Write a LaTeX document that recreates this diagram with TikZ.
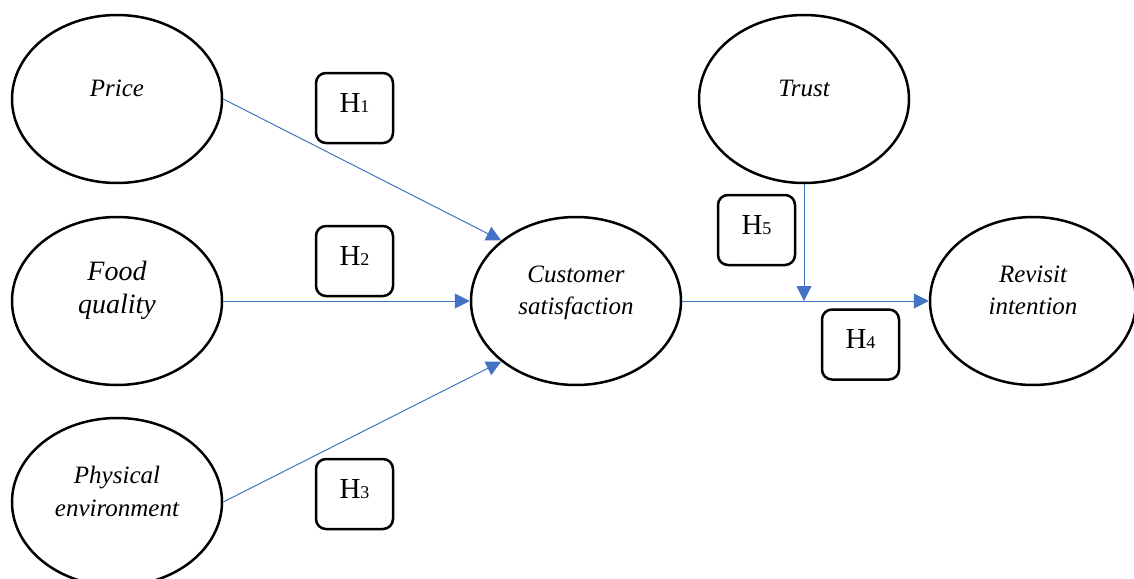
\documentclass[tikz,border=0pt]{standalone}
\usepackage{fontspec}
\setmainfont{Liberation Serif}
\usetikzlibrary{shapes.geometric,arrows.meta}
\definecolor{arrowblue}{HTML}{4472C4}
\newcommand{\hlab}[1]{H{\fontsize{18}{18}\selectfont #1}}
\tikzset{
  construct/.style={ellipse,draw=black,line width=2.5pt,inner sep=0pt,minimum width=210pt,minimum height=168pt},
  ctext/.style={anchor=base,align=center,inner sep=0pt,font=\fontsize{25}{32}\selectfont\itshape},
  bigtext/.style={ctext,font=\fontsize{28}{32}\selectfont\itshape},
  hbox/.style={draw=black,line width=2.5pt,rounded corners=10pt,minimum width=77pt,minimum height=70pt,inner sep=0pt,text depth=10pt,font=\fontsize{29}{29}\selectfont},
  link/.style={draw=arrowblue,line width=1pt,-{Triangle[length=15pt,width=15pt]}}
}
\begin{document}
\begin{tikzpicture}[x=1pt,y=-1pt]
\useasboundingbox (0,0) rectangle (1134,578);
% constructs
\node[construct] (Price) at (117,99) {};
\node[construct] (Food) at (117,301) {};
\node[construct] (Phys) at (117,502) {};
\node[construct] (CS) at (576,301) {};
\node[construct] (Trust) at (804,99) {};
\node[construct,minimum width=206pt] (RI) at (1033,301) {};
% texts
\node[ctext] (tPrice) at (117,96) {Price};
\node[bigtext] (tFood) at (117,280) {Food};
\node[bigtext] (tFood2) at (117,313) {quality};
\node[ctext] (tPhys) at (117,483) {Physical};
\node[ctext] (tPhys2) at (117,516) {environment};
\node[ctext] (tCS) at (576,282) {Customer};
\node[ctext] (tCS2) at (576,314) {satisfaction};
\node[ctext] (tTrust) at (804,96) {Trust};
\node[ctext] (tRI) at (1033,282) {Revisit};
\node[ctext] (tRI2) at (1033,314) {intention};
% hypothesis boxes
\node[hbox] (H1) at (354.5,108) {\hlab{1}};
\node[hbox] (H2) at (354.5,261) {\hlab{2}};
\node[hbox] (H3) at (354.5,494) {\hlab{3}};
\node[hbox] (H5) at (756.5,230) {\hlab{5}};
\node[hbox] (H4) at (860.5,344.5) {\hlab{4}};
% connectors
\coordinate (m) at (Trust.south |- CS.east);
\draw[link] (Price.east) -- (CS.141);
\draw[link] (Food.east) -- (CS.west);
\draw[link] (Phys.east) -- (CS.219);
\draw[link] (CS.east) -- (RI.west);
\draw[link] (Trust.south) -- (m);
\end{tikzpicture}
\end{document}
